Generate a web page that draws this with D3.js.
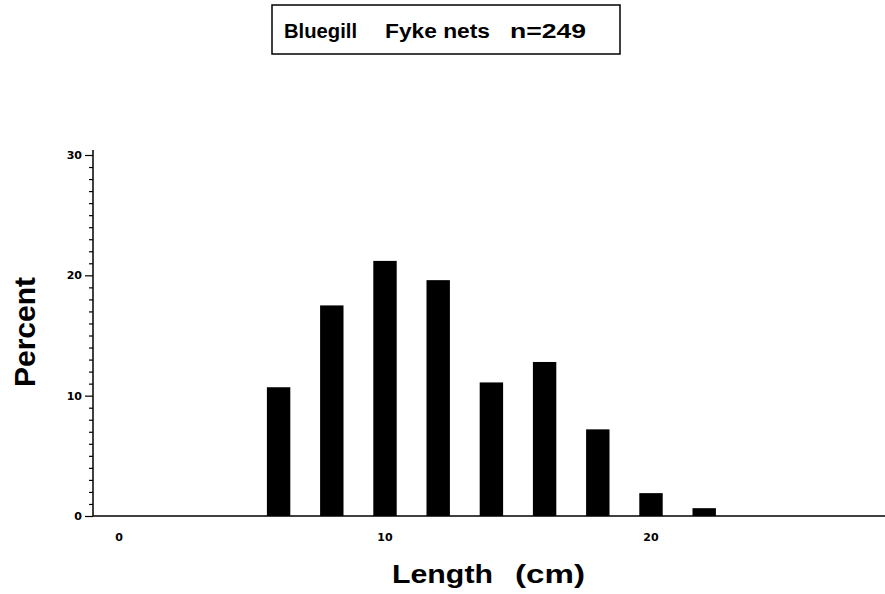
<!DOCTYPE html>
<html><head><meta charset="utf-8">
<script src="https://cdn.jsdelivr.net/npm/d3@7"></script>
<style>body{margin:0;background:#fff}svg{display:block}</style>
</head><body>
<script>
const titleWords = ["Bluegill", "Fyke nets", "n=249"];
const lengths = [6, 8, 10, 12, 14, 16, 18, 20, 22];
const percents = [10.7, 17.5, 21.2, 19.6, 11.1, 12.8, 7.2, 1.9, 0.65];
const yTicks = [0, 10, 20, 30];
const xTicks = [0, 10, 20];
const xLabelWords = ["Length", "(cm)"];
const yLabel = "Percent";

const W = 885, H = 594;
const svg = d3.select("body").append("svg").attr("width", W).attr("height", H);

const x = d3.scaleLinear().domain([0, 20]).range([119, 651]);
const y = d3.scaleLinear().domain([0, 30]).range([516, 155]);
const axisX = 93;

// title box
svg.append("rect").attr("x", 272).attr("y", 5).attr("width", 348).attr("height", 49)
  .attr("fill", "none").attr("stroke", "#000").attr("stroke-width", 1.5);
const tx = [284, 385, 510], tw = [73, 105, 76];
svg.selectAll("text.title").data(titleWords).join("text").attr("class", "title")
  .attr("x", (d, i) => tx[i]).attr("y", 38)
  .attr("font-family", "Liberation Sans, Arial, sans-serif").attr("font-weight", "bold")
  .attr("font-size", 20).attr("textLength", (d, i) => tw[i])
  .attr("lengthAdjust", "spacingAndGlyphs").text(d => d);

// bars
const bw = 0.88;
svg.selectAll("rect.bar").data(lengths).join("rect").attr("class", "bar")
  .attr("x", d => x(d - bw / 2)).attr("width", x(bw) - x(0))
  .attr("y", (d, i) => y(percents[i])).attr("height", (d, i) => y(0) - y(percents[i]))
  .attr("fill", "#000");

// y axis
const yAxis = d3.axisLeft(y).tickValues(d3.range(0, 31, 1)).tickSize(4)
  .tickFormat(() => "");
const gy = svg.append("g").attr("transform", `translate(${axisX},0)`).call(yAxis);
gy.select(".domain").remove();
gy.selectAll(".tick line").attr("stroke", "#000").attr("stroke-width", 1.2)
  .attr("x2", d => d % 10 === 0 ? -8 : -4);
svg.append("line").attr("x1", axisX).attr("x2", axisX).attr("y1", 150).attr("y2", y(0))
  .attr("stroke", "#000").attr("stroke-width", 1.5);
svg.selectAll("text.ytick").data(yTicks).join("text").attr("class", "ytick")
  .attr("x", 82).attr("y", d => y(d)).attr("dy", "0.36em").attr("text-anchor", "end")
  .attr("font-family", "DejaVu Sans, sans-serif").attr("font-weight", "bold")
  .attr("font-size", 11).text(d => d);

// x axis
svg.append("line").attr("x1", axisX).attr("x2", W).attr("y1", y(0)).attr("y2", y(0))
  .attr("stroke", "#000").attr("stroke-width", 1.5);
svg.selectAll("text.xtick").data(xTicks).join("text").attr("class", "xtick")
  .attr("x", d => x(d)).attr("y", 541).attr("text-anchor", "middle")
  .attr("font-family", "DejaVu Sans, sans-serif").attr("font-weight", "bold")
  .attr("font-size", 11).text(d => d);

// axis titles
const lx = [392, 515], lw = [101, 70];
svg.selectAll("text.xlab").data(xLabelWords).join("text").attr("class", "xlab")
  .attr("x", (d, i) => lx[i]).attr("y", 583)
  .attr("font-family", "Liberation Sans, Arial, sans-serif").attr("font-weight", "bold")
  .attr("font-size", 26).attr("textLength", (d, i) => lw[i])
  .attr("lengthAdjust", "spacingAndGlyphs").text(d => d);
svg.append("text").attr("transform", "translate(35,332) rotate(-90)").attr("text-anchor", "middle")
  .attr("font-family", "Liberation Sans, Arial, sans-serif").attr("font-weight", "bold")
  .attr("font-size", 30).text(yLabel);
</script>
</body></html>
